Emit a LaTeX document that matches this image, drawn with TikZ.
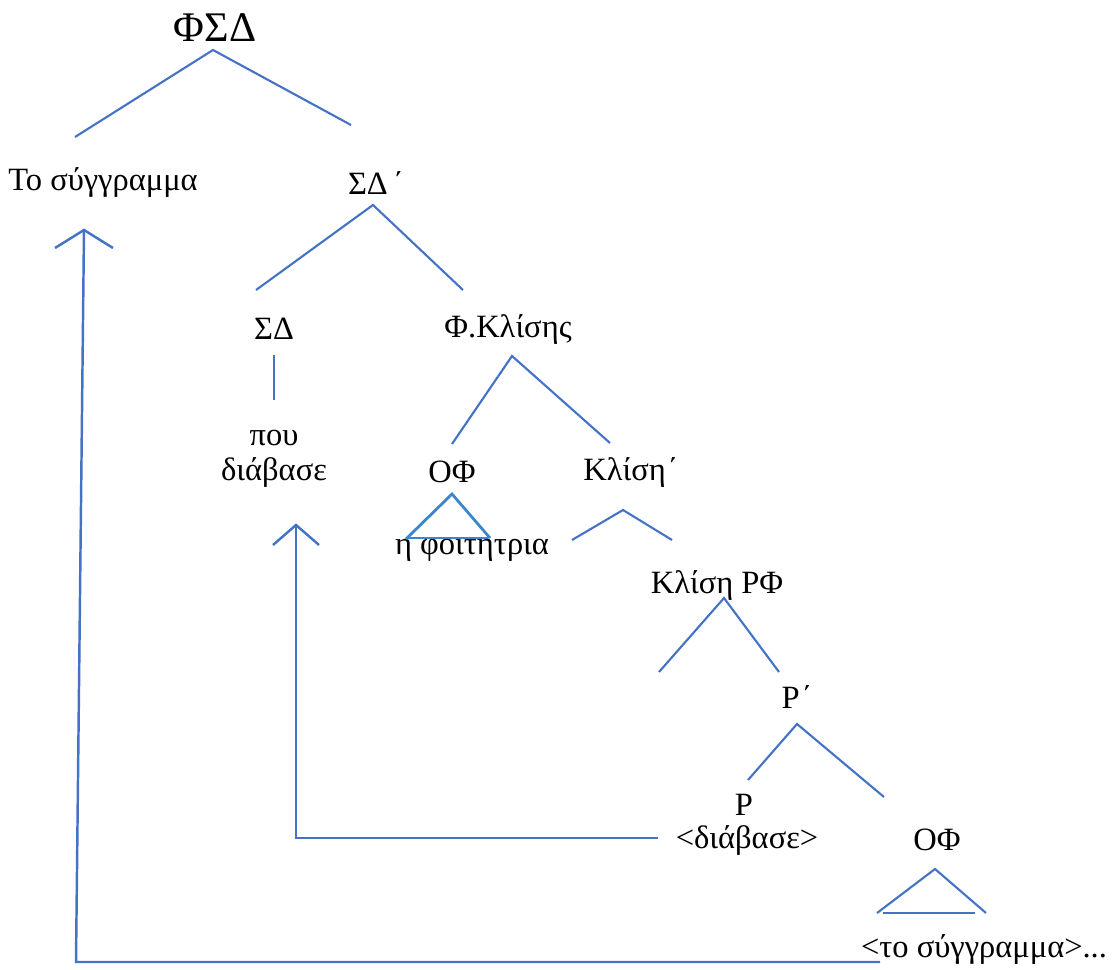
\documentclass[tikz,border=0pt]{standalone}
\usepackage{fontspec}
\setmainfont{Liberation Serif}
\usetikzlibrary{positioning}
\definecolor{treeblue}{RGB}{68,114,196}

\begin{document}
\begin{tikzpicture}[x=0.02cm, y=-0.02cm,
    lbl/.style={font=\fontsize{18.5}{20}\selectfont, inner sep=1pt, align=center},
    br/.style={draw=treeblue, line width=1.2pt},
    mv/.style={draw=treeblue, line width=1.4pt}]
  \useasboundingbox (0,0) rectangle (1114,969);
  % κόμβοι
  \node[lbl, font=\fontsize{24}{24}\selectfont] (fsd) at (215,28) {ΦΣΔ};
  \node[lbl] (obj) at (103,183) {Το σύγγραμμα};
  \node[lbl] (sdbar) at (376,183) {ΣΔ\kern3pt΄};
  \node[lbl] (sd) at (274,329) {ΣΔ};
  \node[lbl] (fkl) at (508,329) {Φ.Κλίσης};
  \node[lbl] (pou) at (274,459) {που\\διάβασε};
  \node[lbl] (of1) at (452,472) {ΟΦ};
  \node[lbl] (klbar) at (631,472) {Κλίση\kern1pt΄};
  \node[lbl] (subj) at (472,550) {η φοιτητρια};
  \node[lbl] (klrf) at (717,585) {Κλίση ΡΦ};
  \node[lbl] (rbar) at (797,697) {Ρ\kern1pt΄};
  \node[lbl] (rh) at (744,805) {Ρ};
  \node[lbl] (rtr) at (747,840) {<διάβασε>};
  \node[lbl] (of2) at (937,840) {ΟΦ};
  \node[lbl] (otr) at (984,950) {<το σύγγραμμα>...};
  % άκρα κλάδων
  \coordinate (fsdT) at (213,50);
  \coordinate (fsdL) at (75,137);
  \coordinate (fsdR) at (351,125);
  \coordinate (sdbT) at (373,205);
  \coordinate (sdbL) at (256,290);
  \coordinate (sdbR) at (463,290);
  \coordinate (sdT) at (274,355);
  \coordinate (sdB) at (274,400);
  \coordinate (fklT) at (512,356);
  \coordinate (fklL) at (452,444);
  \coordinate (fklR) at (610,443);
  \coordinate (of1T) at (452,494);
  \coordinate (of1L) at (406,539);
  \coordinate (of1R) at (490,538);
  \coordinate (klbT) at (623,510);
  \coordinate (klbL) at (572,540);
  \coordinate (klbR) at (672,540);
  \coordinate (klrT) at (724,598);
  \coordinate (klrL) at (659,672);
  \coordinate (klrR) at (779,672);
  \coordinate (rbT) at (797,724);
  \coordinate (rbL) at (748,780);
  \coordinate (rbR) at (884,797);
  \coordinate (of2T) at (935,869);
  \coordinate (of2L) at (877,913);
  \coordinate (of2R) at (986,913);
  % κλάδοι
  \draw[br] (fsdL) -- (fsdT) -- (fsdR);
  \draw[br] (sdbL) -- (sdbT) -- (sdbR);
  \draw[br] (sdT) -- (sdB);
  \draw[br] (fklL) -- (fklT) -- (fklR);
  \draw[br, line width=1.6pt, draw=treeblue!85!cyan] (of1L) -- (of1T) -- (of1R);
  \draw[br, line width=1.6pt, draw=treeblue!85!cyan] (408,538) -- (488,538);
  \draw[br] (klbL) -- (klbT) -- (klbR);
  \draw[br] (klrL) -- (klrT) -- (klrR);
  \draw[br] (rbL) -- (rbT) -- (rbR);
  \draw[br] (of2L) -- (of2T) -- (of2R);
  \draw[br] (883,913) -- (975,913);
  % μετακινήσεις
  \coordinate (a1) at (84,230);
  \coordinate (a1e) at (76,962);
  \coordinate (a1f) at (880,962);
  \draw[mv] (55,248) -- (a1) -- (113,248);
  \draw[mv] (a1) -- (a1e) -- (a1f);
  \coordinate (a2) at (296,525);
  \coordinate (a2e) at (296,838);
  \coordinate (a2f) at (658,838);
  \draw[mv] (273,545) -- (a2) -- (319,545);
  \draw[mv] (a2) -- (a2e) -- (a2f);
\end{tikzpicture}
\end{document}
